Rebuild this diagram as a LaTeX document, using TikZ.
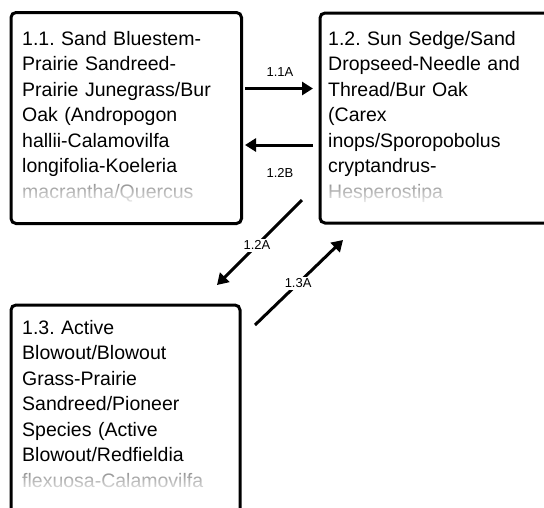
\documentclass[tikz,border=0pt]{standalone}
\usepackage{fontspec}
\setmainfont{Liberation Sans}
\usetikzlibrary{arrows.meta,fadings}
\tikzfading[name=lastlinefade, top color=transparent!45, bottom color=transparent!5]
\begin{document}
\begin{tikzpicture}[x=1pt,y=-1pt,
 box/.style={draw, line width=3pt, rounded corners=5pt, anchor=north west, inner sep=0pt},
 boxtext/.style={anchor=base west, inner sep=0pt, text width=300pt, align=left, font=\fontsize{19.5}{25.5}\selectfont\frenchspacing},
 fadebox/.style={fill=white, path fading=lastlinefade},
 arr/.style={line width=3pt, -{Triangle[length=11pt,width=13pt]}},
 lbl/.style={font=\fontsize{13}{15}\selectfont, inner sep=1pt},
 lblw/.style={lbl, fill=white, inner sep=2pt}]
\useasboundingbox (0,0) rectangle (544,507);
\clip (0,0) rectangle (544,507);
% boxes
\node[box, minimum width=230.5pt, minimum height=211pt] (b1) at (9.5,11) {};
\node[box, minimum width=260pt, minimum height=210pt] (b2) at (318.5,11.5) {};
\node[box, minimum width=229pt, minimum height=230pt] (b3) at (9.5,303.5) {};
% texts
\node[boxtext] (t1) at (22,45) {1.1. Sand Bluestem-\\Prairie Sandreed-\\Prairie Junegrass/Bur\\Oak (Andropogon\\hallii-Calamovilfa\\longifolia-Koeleria\\macrantha/Quercus};
\node[boxtext] (t2) at (328,45) {1.2. Sun Sedge/Sand\\Dropseed-Needle and\\Thread/Bur Oak\\(Carex\\inops/Sporopobolus\\cryptandrus-\\Hesperostipa};
\node[boxtext] (t3) at (22,334) {1.3. Active\\Blowout/Blowout\\Grass-Prairie\\Sandreed/Pioneer\\Species (Active\\Blowout/Redfieldia\\flexuosa-Calamovilfa};
% fading of the last visible lines
\fill[fadebox] (14,182) rectangle (236,204);
\fill[fadebox] (323,182) rectangle (544,204);
\fill[fadebox] (14,471) rectangle (235,493);
% arrow end points
\coordinate (a1s) at (245,88.5);
\coordinate (a1e) at (313,88.5);
\coordinate (a2s) at (313,145);
\coordinate (a2e) at (245,145);
\coordinate (a3s) at (302,200);
\coordinate (a3e) at (217,285);
\coordinate (a4s) at (255,325);
\coordinate (a4e) at (343,240);
\draw[arr] (a1s) -- (a1e);
\node[lbl] (l1) at (280,72) {1.1A};
\draw[arr] (a2s) -- (a2e);
\node[lbl] (l2) at (280,173) {1.2B};
\draw[arr] (a3s) -- node[lblw, pos=0.53] (l3) {1.2A} (a3e);
\draw[arr] (a4s) -- node[lblw, pos=0.49] (l4) {1.3A} (a4e);
\end{tikzpicture}
\end{document}
